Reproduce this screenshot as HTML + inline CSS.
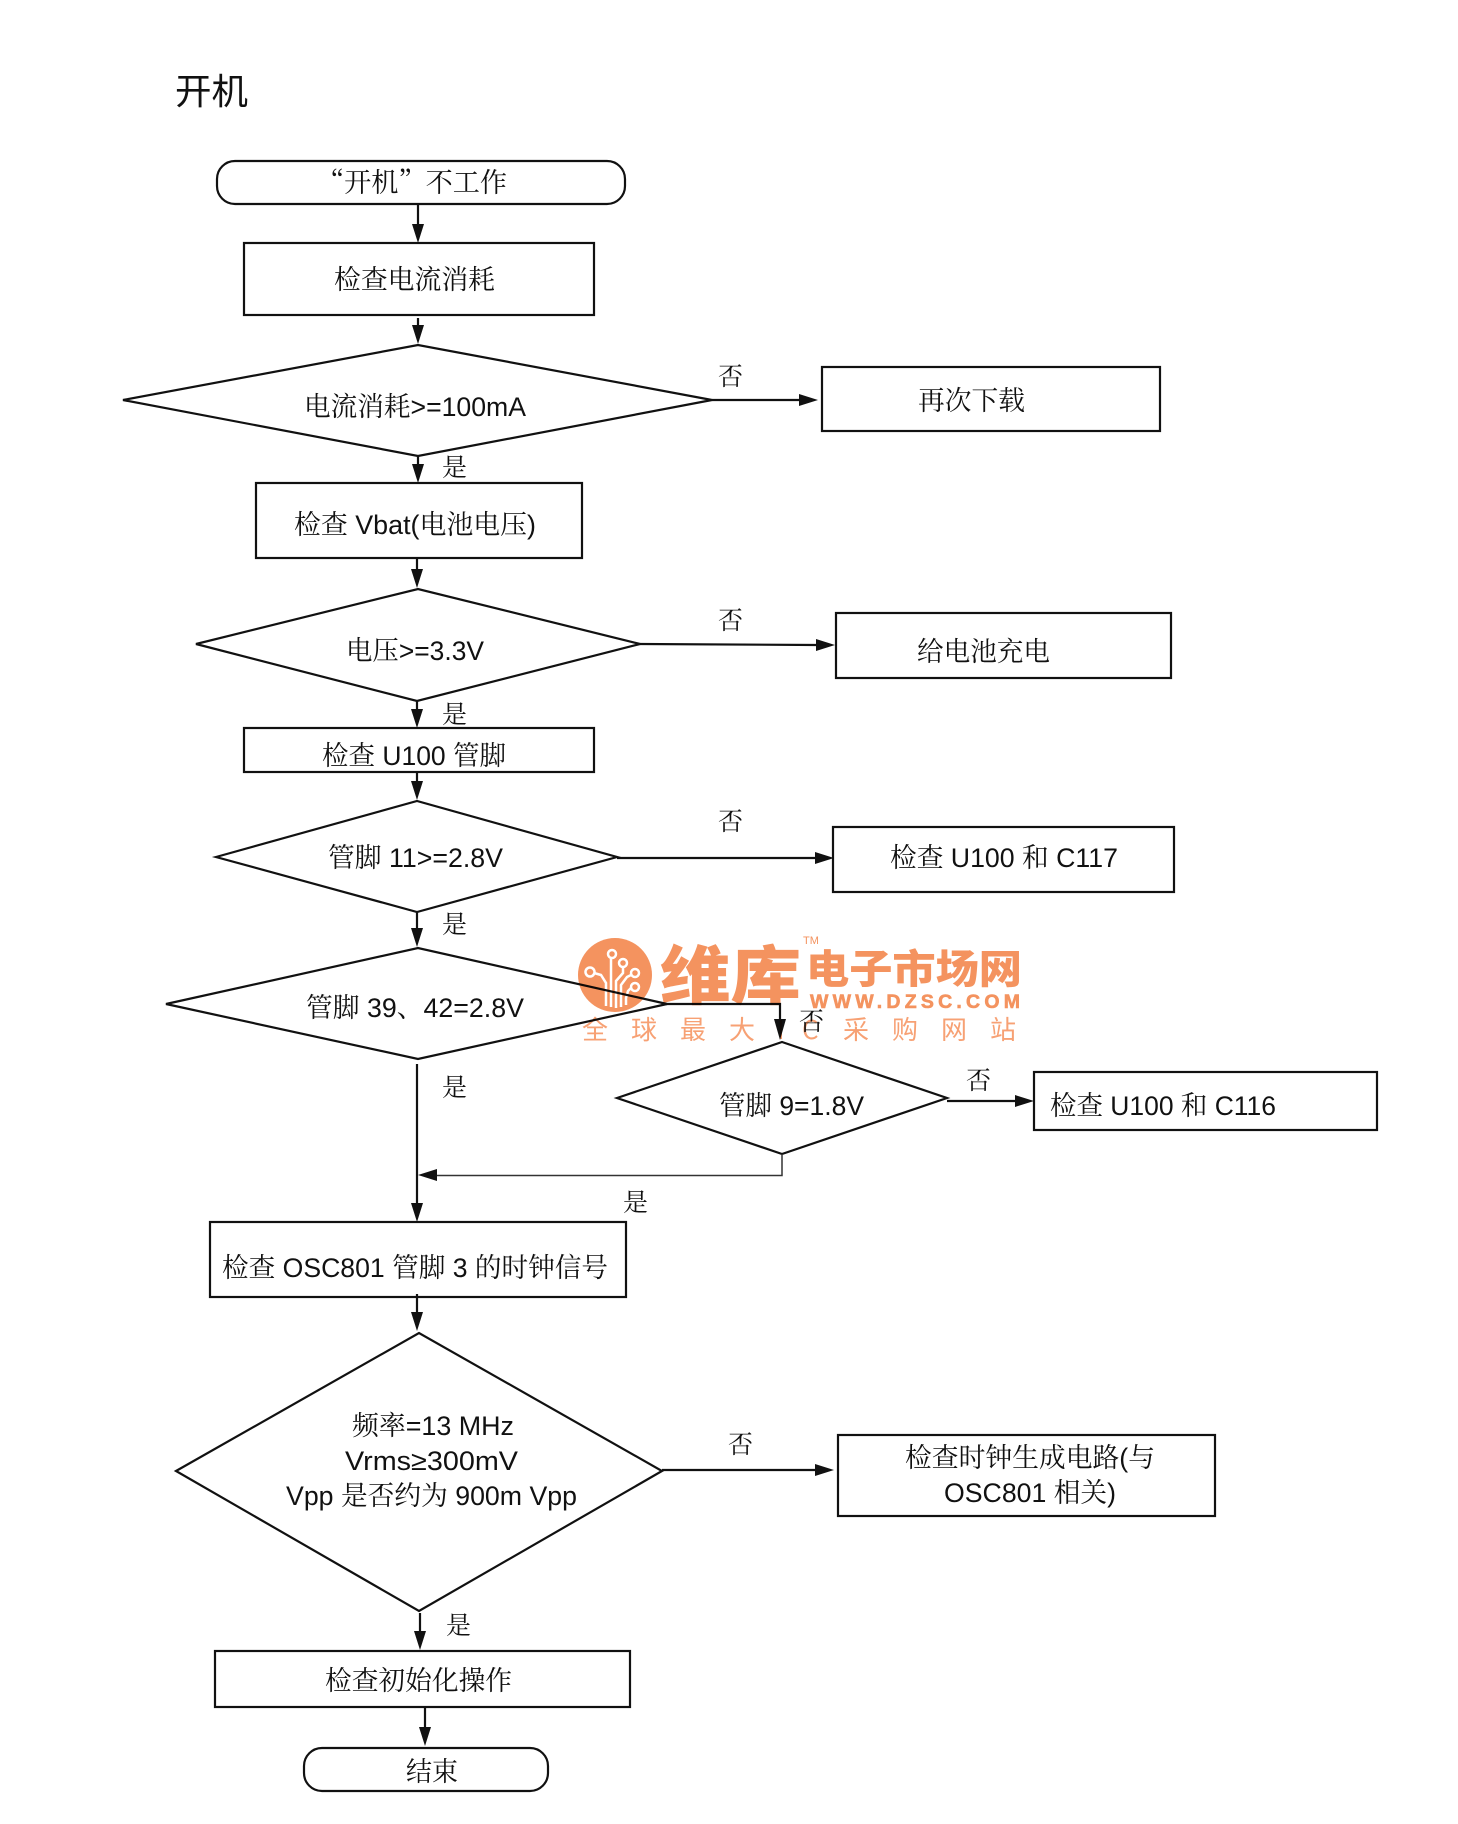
<!DOCTYPE html>
<html><head><meta charset="utf-8"><style>
html,body{margin:0;padding:0;background:#fff}
svg{display:block}
text{font-family:"Liberation Sans","Noto Serif CJK SC",serif;font-size:27px;fill:#111}
.sh{fill:#fff;stroke:#111;stroke-width:2.200}
.l{fill:none;stroke:#111;stroke-width:2.200}
.a{fill:#111;stroke:none}
.n{font-family:"Noto Serif CJK SC",serif;font-size:25px}
</style></head><body>
<svg width="1458" height="1824" viewBox="0 0 1458 1824" xmlns="http://www.w3.org/2000/svg">
<rect width="1458" height="1824" fill="#fff"/>
<text x="175" y="104" textLength="73" lengthAdjust="spacingAndGlyphs" style="font-size:36px;font-family:'Noto Sans CJK SC',sans-serif;font-weight:400">开机</text>

<!-- shapes -->
<rect class="sh" x="217" y="161" width="408" height="43" rx="18"/>
<rect class="sh" x="244" y="243" width="350" height="72"/>
<polygon class="sh" points="123,400 418,345 712,400 418,456"/>
<rect class="sh" x="822" y="367" width="338" height="64"/>
<rect class="sh" x="256" y="483" width="326" height="75"/>
<polygon class="sh" points="196,644 418,589 640,644 417,701"/>
<rect class="sh" x="836" y="613" width="335" height="65"/>
<rect class="sh" x="244" y="728" width="350" height="44"/>
<polygon class="sh" points="216,857 417,801 617,857 417,912"/>
<rect class="sh" x="833" y="827" width="341" height="65"/>
<polygon class="sh" points="166,1004 418,948 667,1004 418,1059"/>
<polygon class="sh" points="617,1098 782,1042 947,1098 782,1154"/>
<rect class="sh" x="1034" y="1072" width="343" height="58"/>
<rect class="sh" x="210" y="1222" width="416" height="75"/>
<polygon class="sh" points="176,1471 419,1333 662,1471 419,1611"/>
<rect class="sh" x="838" y="1435" width="377" height="81"/>
<rect class="sh" x="215" y="1651" width="415" height="56"/>
<rect class="sh" x="304" y="1748" width="244" height="43" rx="18"/>

<!-- connectors -->
<path class="l" d="M418 204V224M418 318V326M418 456V465M417 558V570M417 701V710M417 772V782M417 912V929M417 1064V1204M417 1294V1313M420 1613V1632M425 1707V1728"/>
<path class="a" d="M412 224h12l-6 19zM412 325h12l-6 19zM412 464h12l-6 19zM411 569h12l-6 19zM411 709h12l-6 19zM411 781h12l-6 19zM411 928h12l-6 19zM411 1203h12l-6 19zM411 1312h12l-6 19zM414 1631h12l-6 19zM419 1727h12l-6 19z"/>
<path class="l" d="M712 400H800M640 644 816 645M617 858H816M662 1470H815M947 1101H1015"/>
<path class="a" d="M799 394v12l19-6zM816 639v12l19-6zM815 852v12l19-6zM815 1464v12l19-6zM1015 1095v12l19-6z"/>
<path class="l" d="M664 1004H780V1020"/>
<path class="a" d="M774 1019h12l-6 21z"/>
<path fill="none" stroke="#333" stroke-width="1.500" d="M782 1154V1175.500H436"/>
<path class="a" d="M437 1169v12l-19-6z"/>

<!-- labels -->
<text x="317" y="192" textLength="190" lengthAdjust="spacingAndGlyphs" style="font-family:'Noto Serif CJK SC',serif">“开机”不工作</text>
<text x="334" y="289" textLength="161" lengthAdjust="spacingAndGlyphs">检查电流消耗</text>
<text x="304" y="416" textLength="222" lengthAdjust="spacingAndGlyphs">电流消耗&gt;=100mA</text>
<text x="918" y="410" textLength="107" lengthAdjust="spacingAndGlyphs">再次下载</text>
<text x="294" y="534" textLength="242" lengthAdjust="spacingAndGlyphs">检查 Vbat(电池电压)</text>
<text x="346" y="660" textLength="138" lengthAdjust="spacingAndGlyphs">电压&gt;=3.3V</text>
<text x="917" y="661" textLength="133" lengthAdjust="spacingAndGlyphs">给电池充电</text>
<text x="322" y="765" textLength="184" lengthAdjust="spacingAndGlyphs">检查 U100 管脚</text>
<text x="328" y="867" textLength="175" lengthAdjust="spacingAndGlyphs">管脚 11&gt;=2.8V</text>
<text x="890" y="867" textLength="228" lengthAdjust="spacingAndGlyphs">检查 U100 和 C117</text>
<text x="306" y="1017" textLength="218" lengthAdjust="spacingAndGlyphs">管脚 39、42=2.8V</text>
<text x="719" y="1115" textLength="145" lengthAdjust="spacingAndGlyphs">管脚 9=1.8V</text>
<text x="1050" y="1115" textLength="226" lengthAdjust="spacingAndGlyphs">检查 U100 和 C116</text>
<text x="222" y="1277" textLength="386" lengthAdjust="spacingAndGlyphs">检查 OSC801 管脚 3 的时钟信号</text>
<text x="352" y="1435" textLength="162" lengthAdjust="spacingAndGlyphs">频率=13 MHz</text>
<text x="345" y="1470" textLength="173" lengthAdjust="spacingAndGlyphs">Vrms≥300mV</text>
<text x="286" y="1505" textLength="291" lengthAdjust="spacingAndGlyphs">Vpp 是否约为 900m Vpp</text>
<text x="905" y="1467" textLength="250" lengthAdjust="spacingAndGlyphs">检查时钟生成电路(与</text>
<text x="944" y="1502" textLength="172" lengthAdjust="spacingAndGlyphs">OSC801 相关)</text>
<text x="325" y="1690" textLength="187" lengthAdjust="spacingAndGlyphs">检查初始化操作</text>
<text x="406" y="1781" textLength="52" lengthAdjust="spacingAndGlyphs">结束</text>

<text class="n" x="718" y="385">否</text>
<text class="n" x="718" y="629">否</text>
<text class="n" x="718" y="830">否</text>
<text class="n" x="799" y="1030">否</text>
<text class="n" x="966" y="1089">否</text>
<text class="n" x="728" y="1453">否</text>
<text class="n" x="442" y="476">是</text>
<text class="n" x="442" y="723">是</text>
<text class="n" x="442" y="933">是</text>
<text class="n" x="442" y="1096">是</text>
<text class="n" x="623" y="1211">是</text>
<text class="n" x="446" y="1634">是</text>

<!-- watermark logo -->
<g style="mix-blend-mode:multiply">
<circle cx="615" cy="975" r="37" fill="#f4935f"/>
<g fill="none" stroke="#fff" stroke-width="2.500">
<path d="M594 973 601 975 606 983V1006M611 958V1007M623 967V973L616 981V1008M631 975 627 977 621 985V1007M631 988 628 991 626 998V1005"/>
<circle cx="612" cy="954" r="4" fill="#f4935f"/><circle cx="623" cy="963" r="4" fill="#f4935f"/><circle cx="635" cy="973" r="4" fill="#f4935f"/><circle cx="635" cy="987" r="4" fill="#f4935f"/><circle cx="590" cy="972" r="4.500" fill="#f4935f"/>
</g>
<text x="660" y="999" textLength="141" lengthAdjust="spacingAndGlyphs" style="font-size:64px;fill:#f4935f;font-family:'Noto Sans CJK SC',sans-serif;font-weight:900">维库</text>
<text x="806" y="983" textLength="216" lengthAdjust="spacingAndGlyphs" style="font-size:40px;fill:#f4935f;font-family:'Noto Sans CJK SC',sans-serif;font-weight:900">电子市场网</text>
<text x="810" y="1008" textLength="210" style="font-size:19.500px;fill:#f4935f;stroke:#f4935f;stroke-width:.6;font-family:'Liberation Sans',sans-serif;font-weight:700">WWW.DZSC.COM</text>
<text x="582 631 680 729 777 802 843 892 941 990" y="1039" style="font-size:26px;fill:#f7a174;font-family:'Noto Sans CJK SC',sans-serif;font-weight:400">全球最大IC采购网站</text>
<text x="803" y="944" style="font-size:11px;fill:#f4935f;font-family:'Liberation Sans',sans-serif;font-weight:400">TM</text>
</g>
</svg>
</body></html>
